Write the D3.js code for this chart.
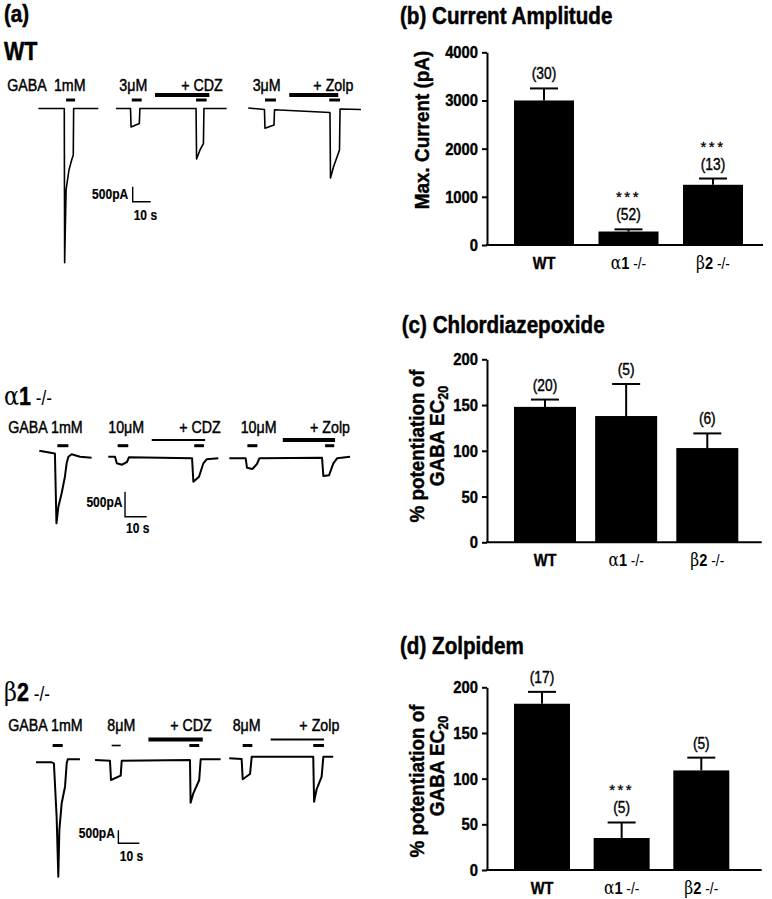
<!DOCTYPE html>
<html><head><meta charset="utf-8">
<script src="https://cdn.jsdelivr.net/npm/d3@7"></script>
<style>body{margin:0;background:#fff}svg{display:block;background:#fff}</style>
</head><body>
<svg id="fig" width="772" height="899"></svg>
<script>
// ================= DATA =================
const categories = ["WT", "α1 -/-", "β2 -/-"];

// (b) Current amplitude (pA)
const ampMean = [3000, 280, 1250];
const ampSEM  = [250, 45, 130];
const ampN    = [30, 52, 13];
const ampSig  = ["", "***", "***"];
const ampTicks = [0, 1000, 2000, 3000, 4000];

// (c) Chlordiazepoxide (% potentiation of GABA EC20)
const cdzMean = [148, 138, 103];
const cdzSEM  = [8, 35, 16];
const cdzN    = [20, 5, 6];
const cdzSig  = ["", "", ""];

// (d) Zolpidem (% potentiation of GABA EC20)
const zolpMean = [182, 35, 109];
const zolpSEM  = [13, 17, 14];
const zolpN    = [17, 5, 5];
const zolpSig  = ["", "***", ""];
const potTicks = [0, 50, 100, 150, 200];

// (a) current traces: [time (s), current (pA)]
const wtTraces = [
  [[0.2,0],[14.6,0],[14.8,-5140],[15.6,-2717],[17.2,-2050],[18.7,-1717],[19.6,-1550],[19.8,0],[33.5,0]],
  [[43.3,0],[51.4,0],[51.7,-617],[56.3,-500],[56.6,0],[87.8,0],[88.1,-1683],[90.0,-1383],[91.9,-1167],[92.2,0],[104.8,0]],
  [[116.8,17],[125.8,-33],[126.1,-660],[131.1,-550],[131.4,-43],[162.2,-133],[162.5,-2317],[164.2,-1940],[167.5,-1383],[167.8,-17],[179.4,-33]]
];
const a1Traces = [
  [[0.6,126],[7.1,74],[7.8,70],[8.5,-1326],[9.4,-994],[10.9,-726],[12.4,-394],[13.2,-126],[14.0,6],[15.5,54],[19.4,6],[24.7,-14]],
  [[32.4,6],[35.5,6],[36.3,-126],[38.7,-154],[41.0,-100],[41.9,-6],[71.0,-26],[71.6,-494],[74.2,-394],[76.2,-126],[77.7,-46],[83.1,-26]],
  [[88.2,-26],[95.7,-26],[96.3,-214],[98.8,-240],[100.9,-140],[102.0,-26],[130.9,-14],[131.5,-380],[134.1,-366],[136.1,-126],[137.8,-26],[143.8,6]]
];
const b2Traces = [
  [[0.5,-127],[8.0,-127],[9.0,-165],[10.3,-2219],[11.1,-4527],[11.6,-2731],[12.7,-1704],[14.3,-1065],[15.1,-165],[15.6,-12],[21.4,-12]],
  [[28.6,-38],[35.7,-65],[36.2,-808],[40.8,-642],[41.3,-65],[73.8,-38],[74.1,-1681],[75.4,-1319],[78.2,-808],[78.9,-12],[88.4,-12]],
  [[92.5,27],[98.4,0],[98.9,-781],[102.4,-577],[103.2,88],[132.5,88],[132.9,-1642],[134.1,-1165],[136.5,-681],[137.3,88],[142.0,88]]
];
// drug application bars: [start s, end s, kind]  s=short, l=long, st/lt = thin
const wtBars = [[15.6,20.6,"s"],[52.1,57.6,"s"],[65.0,95.2,"l"],[87.8,93.7,"s"],[126.1,132.2,"s"],[139.6,166.8,"l"],[161.8,167.8,"s"]];
const a1Bars = [[8.9,14.0,"s"],[36.7,41.6,"s"],[52.4,77.0,"lt"],[72.0,76.5,"s"],[96.5,101.1,"s"],[112.8,136.9,"l"],[132.3,136.5,"s"]];
const b2Bars = [[8.4,13.2,"s"],[36.5,40.8,"st"],[54.0,79.9,"l"],[73.5,78.2,"s"],[98.9,103.5,"s"],[112.2,137.6,"lt"],[132.5,137.6,"s"]];
const wtLabels = ["GABA  1mM", "3μM", "+ CDZ", "3μM", "+ Zolp"];
const a1Labels = ["GABA 1mM", "10μM", "+ CDZ", "10μM", "+ Zolp"];
const b2Labels = ["GABA 1mM", "8μM", "+ CDZ", "8μM", "+ Zolp"];
const scaleBarPA = 500, scaleBarS = 10;
// scale bar corner [time s, current pA]
const wtScaleBar = [52.6, -3107];
const a1ScaleBar = [40.1, -1194];
const b2ScaleBar = [39.7, -3242];

// ================= DRAW =================
const F = '"Liberation Sans",Arial,Helvetica,sans-serif';
const GREEK = '"DejaVu Serif","Liberation Serif",serif';
const SX = 0.86;
const svg = d3.select("#fig");
svg.append("rect").attr("width", 772).attr("height", 899).attr("fill", "#fff");

function txt(g, x, y, s, o) {
  o = Object.assign({size: 16, weight: "normal", anchor: "start", sx: SX, rot: 0, heavy: 0}, o || {});
  const t = g.append("text")
    .attr("transform", `translate(${x},${y})${o.rot ? ` rotate(${o.rot})` : ""} scale(${o.sx},1)`)
    .attr("font-family", F).attr("font-size", o.size).attr("font-weight", o.weight)
    .attr("text-anchor", o.anchor).attr("fill", "#000").style("white-space", "pre");
  if (o.heavy) t.attr("stroke", "#000").attr("stroke-width", o.heavy).attr("stroke-linejoin", "round");
  if (s != null) t.text(s);
  return t;
}

// ---- panel (a) ----
txt(svg, 4, 22, "(a)", {size: 24, weight: "bold", heavy: 0.5});
txt(svg, 4, 59.5, "WT", {size: 25, weight: "bold", heavy: 0.5});
[[405, "α", "1"], [700.7, "β", "2"]].forEach(([yy, gk, num]) => {
  const t = txt(svg, 4, yy, null, {size: 24});
  t.append("tspan").text(gk).attr("font-size", 26).attr("font-family", GREEK);
  t.append("tspan").text(num).attr("font-size", 25).attr("font-weight", "bold")
    .attr("stroke", "#000").attr("stroke-width", 0.5);
  t.append("tspan").text(" -/-").attr("font-size", 20);
});

const rows = [
  {traces: wtTraces, bars: wtBars, labels: wtLabels, sb: wtScaleBar,
   x0: 38, pxs: 1.8, y0: 108.5, pxpA: 0.03, shortY: 100, longY: 95, textY: 90.7, sw: 1.6,
   labelX: [7.3, 119.3, 222.7, 252.7, 353.3], pa: [-4.5, -2.8], sec: [1, 18.5]},
  {traces: a1Traces, bars: a1Bars, labels: a1Labels, sb: a1ScaleBar,
   x0: 38, pxs: 2.17, y0: 457, pxpA: 0.05, shortY: 445.7, longY: 440, textY: 432.7, sw: 2,
   labelX: [8.3, 108.3, 220.7, 240.7, 350], pa: [-2.5, -10], sec: [1, 16]},
  {traces: b2Traces, bars: b2Bars, labels: b2Labels, sb: b2ScaleBar,
   x0: 35, pxs: 2.1, y0: 759, pxpA: 0.026, shortY: 745.5, longY: 739.5, textY: 730.7, sw: 2,
   labelX: [8.3, 107.3, 211.7, 232.7, 339.3], pa: [-3.5, -5], sec: [1.5, 17.4]}
];
const anchors = ["start", "start", "end", "start", "end"];
const barW = {s: 3, l: 4, st: 1.6, lt: 1.8};

rows.forEach(r => {
  const g = svg.append("g");
  const x = d3.scaleLinear().domain([0, 100]).range([r.x0, r.x0 + 100 * r.pxs]);
  const y = d3.scaleLinear().domain([0, -1000]).range([r.y0, r.y0 + 1000 * r.pxpA]);
  const line = d3.line().x(d => x(d[0])).y(d => y(d[1]));
  g.selectAll("path.tr").data(r.traces).join("path").attr("class", "tr")
    .attr("d", line).attr("fill", "none").attr("stroke", "#000")
    .attr("stroke-width", r.sw).attr("stroke-linejoin", "round");
  g.selectAll("line.app").data(r.bars).join("line").attr("class", "app")
    .attr("x1", d => x(d[0])).attr("x2", d => x(d[1]))
    .attr("y1", d => d[2][0] === "l" ? r.longY : r.shortY)
    .attr("y2", d => d[2][0] === "l" ? r.longY : r.shortY)
    .attr("stroke", "#000").attr("stroke-width", d => barW[d[2]]);
  r.labels.forEach((s, i) => txt(g, r.labelX[i], r.textY, s, {size: 16, sx: 0.89, anchor: anchors[i], heavy: 0.45}));
  // scale bar
  const cx = x(r.sb[0]), cy = y(r.sb[1]);
  const sbPath = d3.path();
  sbPath.moveTo(cx, y(r.sb[1] + scaleBarPA));
  sbPath.lineTo(cx, cy);
  sbPath.lineTo(x(r.sb[0] + scaleBarS), cy);
  g.append("path").attr("d", sbPath.toString()).attr("fill", "none").attr("stroke", "#000").attr("stroke-width", 1.4);
  txt(g, cx + r.pa[0], cy + r.pa[1], scaleBarPA + "pA", {size: 14, weight: "bold", anchor: "end", heavy: 0.2});
  txt(g, cx + r.sec[0], cy + r.sec[1], scaleBarS + " s", {size: 14, weight: "bold", heavy: 0.2});
});

// ---- bar panels ----
const axisX = 487;
const panels = [
  {title: "(b) Current Amplitude", tx: 400, ty: 23.5, mean: ampMean, sem: ampSEM, n: ampN, sig: ampSig,
   ticks: ampTicks, y0: 245, yTop: 52.3, xr: [514, 743], bw: 60, xEnd: 763,
   ylab: [{s: "Max. Current (pA)", x: 429, y: 130}]},
  {title: "(c) Chlordiazepoxide", tx: 401.7, ty: 333, mean: cdzMean, sem: cdzSEM, n: cdzN, sig: cdzSig,
   ticks: potTicks, y0: 542.3, yTop: 359.3, xr: [514, 738.3], bw: 62, xEnd: 761.7,
   ylab: [{s: "% potentiation of", x: 424, y: 446}, {s: "GABA EC", sub: "20", x: 444, y: 436}]},
  {title: "(d) Zolpidem", tx: 400, ty: 654, mean: zolpMean, sem: zolpSEM, n: zolpN, sig: zolpSig,
   ticks: potTicks, y0: 870, yTop: 687.3, xr: [514, 729.3], bw: 56, xEnd: 761.7,
   ylab: [{s: "% potentiation of", x: 424, y: 781}, {s: "GABA EC", sub: "20", x: 444, y: 766}]}
];

panels.forEach(p => {
  const g = svg.append("g");
  const maxT = p.ticks[p.ticks.length - 1];
  const y = d3.scaleLinear().domain([0, maxT]).range([p.y0, p.yTop]);
  const step = (p.xr[1] - p.xr[0] - p.bw) / (categories.length - 1);
  const x = d3.scaleBand().domain(categories).range(p.xr).paddingInner(1 - p.bw / step).paddingOuter(0);
  const data = categories.map((c, i) => ({c, m: p.mean[i], e: p.sem[i], n: p.n[i], s: p.sig[i]}));

  txt(g, p.tx, p.ty, p.title, {size: 24, weight: "bold", heavy: 0.5});

  const ax = g.append("g").attr("transform", `translate(${axisX},0)`)
    .call(d3.axisLeft(y).tickValues(p.ticks).tickSize(5).tickSizeOuter(0).tickPadding(3).tickFormat(d3.format("d")));
  ax.select(".domain").attr("stroke-width", 2);
  ax.selectAll(".tick line").attr("stroke-width", 2);
  ax.selectAll(".tick text").attr("font-family", F).attr("font-size", 17).attr("font-weight", "bold")
    .attr("fill", "#000").attr("stroke", "#000").attr("stroke-width", 0.4)
    .attr("transform", `scale(0.87,1)`).attr("x", -9 / 0.87);

  g.append("line").attr("x1", axisX - 1).attr("x2", p.xEnd).attr("y1", p.y0).attr("y2", p.y0)
    .attr("stroke", "#000").attr("stroke-width", 2);

  g.selectAll("rect.bar").data(data).join("rect").attr("class", "bar")
    .attr("x", d => x(d.c)).attr("width", x.bandwidth())
    .attr("y", d => y(d.m)).attr("height", d => p.y0 - y(d.m)).attr("fill", "#000");
  g.selectAll("line.eb").data(data).join("line").attr("class", "eb")
    .attr("x1", d => x(d.c) + x.bandwidth() / 2).attr("x2", d => x(d.c) + x.bandwidth() / 2)
    .attr("y1", d => y(d.m)).attr("y2", d => y(d.m + d.e)).attr("stroke", "#000").attr("stroke-width", 2);
  g.selectAll("line.cap").data(data).join("line").attr("class", "cap")
    .attr("x1", d => x(d.c) + x.bandwidth() / 2 - 14).attr("x2", d => x(d.c) + x.bandwidth() / 2 + 14)
    .attr("y1", d => y(d.m + d.e)).attr("y2", d => y(d.m + d.e)).attr("stroke", "#000").attr("stroke-width", 2);
  data.forEach(d => {
    const cx = x(d.c) + x.bandwidth() / 2;
    const top = y(d.m + d.e);
    txt(g, cx, top - 9, `(${d.n})`, {size: 16, anchor: "middle", heavy: 0.4});
    if (d.s) txt(g, cx, top - 27, d.s, {size: 15, anchor: "middle", sx: 1, heavy: 0.3}).attr("letter-spacing", 2.5);
  });
  // category labels
  data.forEach((d, i) => {
    const cx = x(d.c) + x.bandwidth() / 2;
    const t = txt(g, cx, p.y0 + 24, null, {size: 17, anchor: "middle"});
    if (i === 0) t.text(d.c).attr("font-weight", "bold").attr("stroke", "#000").attr("stroke-width", 0.4);
    else {
      t.append("tspan").text(d.c[0]).attr("font-family", GREEK).attr("font-size", 18);
      t.append("tspan").text(d.c[1]).attr("font-weight", "bold");
      t.append("tspan").text(d.c.slice(2)).attr("font-size", 16);
    }
  });
  // y labels
  p.ylab.forEach(l => {
    const t = txt(g, l.x, l.y, null, {size: 21, weight: "bold", anchor: "middle", rot: -90, sx: 0.9, heavy: 0.4});
    t.append("tspan").text(l.s);
    if (l.sub) t.append("tspan").text(l.sub).attr("font-size", 14).attr("dy", 4);
  });
});
</script>
</body></html>
